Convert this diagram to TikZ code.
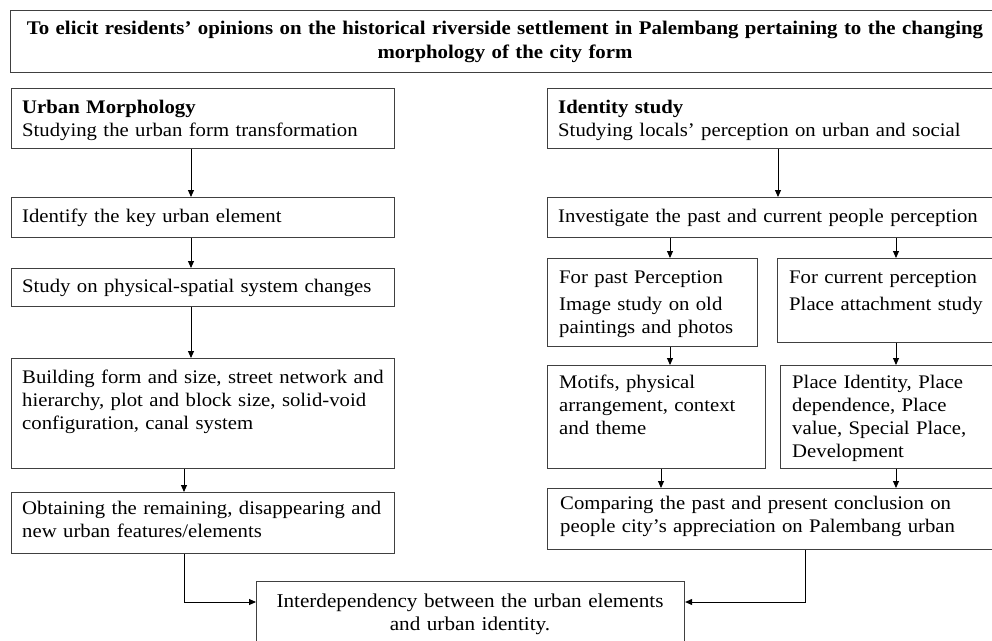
\documentclass[tikz,border=0pt]{standalone}
\usepackage{fontspec}
\setmainfont{Liberation Serif}[FakeStretch=1.08]
\usetikzlibrary{arrows.meta,calc}
\begin{document}
\begin{tikzpicture}[x=1pt,y=-1pt,
  box/.style={draw=black!75, line width=1.1pt, anchor=north west, inner sep=0pt},
  txt/.style={anchor=base west, align=left, inner sep=0pt, text width=460pt,
    font=\fontsize{19.2}{23}\selectfont},
  ctxt/.style={anchor=base, align=center, inner sep=0pt},
  arr/.style={draw=black, line width=0.9pt, -{Triangle[length=7pt,width=6pt]}},
  ln/.style={draw=black!75, line width=1pt}]
\useasboundingbox (0,0) rectangle (992,640);
\clip (0,0) rectangle (992,640);
% title
\node[box, minimum width=995pt, minimum height=62pt] (T) at (10,10) {};
\node[ctxt, text width=990pt, font=\fontsize{19.3}{24}\selectfont\bfseries] (Tt) at (505,34)
  {To elicit residents’ opinions on the historical riverside settlement in Palembang pertaining to the changing\\ morphology of the city form};
% left column
\node[box, minimum width=383pt, minimum height=60pt] (L1) at (11,88) {};
\node[txt] (L1t) at (22,113) {\textbf{Urban Morphology}\\ Studying the urban form transformation};
\node[box, minimum width=383pt, minimum height=40pt] (L2) at (11,197) {};
\node[txt] (L2t) at (22,222) {Identify the key urban element};
\node[box, minimum width=383pt, minimum height=38pt] (L3) at (11,268) {};
\node[txt] (L3t) at (22,292) {Study on physical-spatial system changes};
\node[box, minimum width=383pt, minimum height=110pt] (L4) at (11,358) {};
\node[txt] (L4t) at (22,383) {Building form and size, street network and\\ hierarchy, plot and block size, solid-void\\ configuration, canal system};
\node[box, minimum width=383pt, minimum height=61pt] (L5) at (11,492) {};
\node[txt] (L5t) at (22,514) {Obtaining the remaining, disappearing and\\ new urban features/elements};
% right column
\node[box, minimum width=460pt, minimum height=60pt] (R1) at (547,88) {};
\node[txt] (R1t) at (558,113) {\textbf{Identity study}\\ Studying locals’ perception on urban and social};
\node[box, minimum width=460pt, minimum height=40pt] (R2) at (547,197) {};
\node[txt] (R2t) at (558,222) {Investigate the past and current people perception};
\node[box, minimum width=210pt, minimum height=88pt] (R3a) at (547,258) {};
\node[txt] (R3at) at (559,283) {For past Perception\\[4pt] Image study on old\\ paintings and photos};
\node[box, minimum width=230pt, minimum height=84pt] (R3b) at (777,258) {};
\node[txt] (R3bt) at (789,283) {For current perception\\[4pt] Place attachment study};
\node[box, minimum width=218pt, minimum height=103pt] (R4a) at (547,365) {};
\node[txt] (R4at) at (559,388) {Motifs, physical\\ arrangement, context\\ and theme};
\node[box, minimum width=230pt, minimum height=103pt] (R4b) at (780,365) {};
\node[txt] (R4bt) at (792,388) {Place Identity, Place\\ dependence, Place\\ value, Special Place,\\ Development};
\node[box, minimum width=460pt, minimum height=61pt] (R5) at (547,488) {};
\node[txt] (R5t) at (560,509) {Comparing the past and present conclusion on\\ people city’s appreciation on Palembang urban};
% bottom
\node[box, minimum width=428pt, minimum height=80pt] (B) at (256,581) {};
\node[ctxt, text width=420pt, font=\fontsize{19.6}{23}\selectfont] (Bt) at (470,607)
  {Interdependency between the urban elements\\ and urban identity.};
% connector x positions
\coordinate (xa) at (191,0);
\coordinate (xb) at (184,0);
\coordinate (xc) at (778,0);
\coordinate (xd) at (670,0);
\coordinate (xe) at (896,0);
\coordinate (xf) at (661,0);
\coordinate (jl) at (184,602);
\coordinate (jr) at (805,602);
\draw[arr] (L1.south -| xa) -- (L2.north -| xa);
\draw[arr] (L2.south -| xa) -- (L3.north -| xa);
\draw[arr] (L3.south -| xa) -- (L4.north -| xa);
\draw[arr] (L4.south -| xb) -- (L5.north -| xb);
\draw[arr] (R1.south -| xc) -- (R2.north -| xc);
\draw[arr] (R2.south -| xd) -- (R3a.north -| xd);
\draw[arr] (R2.south -| xe) -- (R3b.north -| xe);
\draw[arr] (R3a.south -| xd) -- (R4a.north -| xd);
\draw[arr] (R3b.south -| xe) -- (R4b.north -| xe);
\draw[arr] (R4a.south -| xf) -- (R5.north -| xf);
\draw[arr] (R4b.south -| xe) -- (R5.north -| xe);
\draw[arr] (L5.south -| jl) |- (B.west |- jl);
\draw[arr] (R5.south -| jr) |- (B.east |- jr);
\end{tikzpicture}
\end{document}
